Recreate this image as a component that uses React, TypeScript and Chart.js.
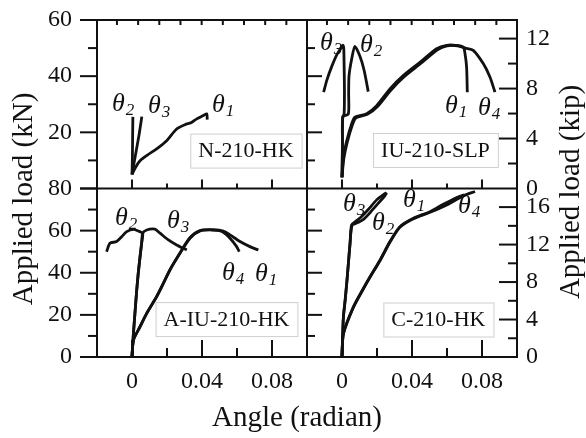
import { useEffect, useRef } from 'react';
import { Chart, registerables } from 'chart.js';

Chart.register(...registerables);

const FONT = "'Liberation Serif', 'Times New Roman', serif";
const INK = '#111111';
const KN_PER_KIP = 4.448;

// ---------- axis tick values ----------
const xLabelAngles = [0, 0.04, 0.08];
const xTickLabels = ['0', '0.04', '0.08'];
const xMinorAngles = [0.02, 0.06];
const topTickAngles = [-0.0086, 0.0035, 0.0156, 0.0277, 0.0398, 0.0519, 0.064, 0.0761, 0.0882];
const topPanelMaxKN = 60;
const bottomPanelMaxKN = 80;

// ---------- N-210-HK (top left) ----------
const n210Theta1Angle = [0, 0.002, 0.0046, 0.009, 0.0141, 0.0198, 0.0255, 0.0313, 0.034, 0.037, 0.0408, 0.0427, 0.043];
const n210Theta1Load = [5, 7.5, 9.9, 12, 14.1, 17, 21.2, 23, 23.5, 24.8, 26, 26.6, 24.5];
const n210Theta2Angle = [0, 0.0002, 0.0003, 0.0004, 0.0005];
const n210Theta2Load = [5, 10, 15, 21, 25.5];
const n210Theta3Angle = [0, 0.001, 0.002, 0.003, 0.004, 0.005, 0.0056];
const n210Theta3Load = [5, 8.5, 12, 15.5, 19, 23, 25.6];

// ---------- IU-210-SLP (top right) ----------
const slpTheta1Angle = [0, 0.0008, 0.0027, 0.0055, 0.0074, 0.0141, 0.0198, 0.0274, 0.035, 0.0447, 0.0541, 0.0598, 0.065, 0.0693, 0.0703, 0.0712, 0.0716];
const slpTheta1Load = [4, 11.1, 17, 23, 25.4, 26.6, 29.5, 35.5, 40.2, 45, 49.8, 51, 51, 50.4, 48, 43.2, 34.3];
const slpTheta2Angle = [0, 0.0003, 0.0005, 0.0036, 0.0038, 0.004, 0.0055, 0.0074, 0.0103, 0.0126, 0.015];
const slpTheta2Load = [4, 15, 25.5, 26.5, 34, 40, 46, 50.6, 47, 42.2, 34.5];
const slpTheta3Angle = [0, 0.0002, 0.0004, 0.0012, 0.0014, 0.0012, 0.001, 0.0006, 0, -0.003, -0.0059, -0.0086, -0.0105];
const slpTheta3Load = [4, 14, 25.5, 26.5, 35, 44, 50, 51, 50.5, 47.6, 43.4, 38.7, 34.3];
const slpTheta4Angle = [0, 0.001, 0.003, 0.006, 0.008, 0.0145, 0.0203, 0.0279, 0.0355, 0.045, 0.0545, 0.06, 0.066, 0.0705, 0.075, 0.0808, 0.0846, 0.0874];
const slpTheta4Load = [4, 10.5, 16.5, 22.8, 25.2, 26.4, 29.2, 35, 39.8, 44.5, 49.4, 50.8, 50.8, 50, 49.2, 44.4, 39.6, 34.3];

// ---------- A-IU-210-HK (bottom left) ----------
const aiuTheta1Angle = [0, 0.0008, 0.0046, 0.0084, 0.0141, 0.017, 0.0217, 0.0274, 0.0331, 0.0389, 0.0465, 0.0522, 0.056, 0.0617, 0.0674, 0.0722];
const aiuTheta1Load = [0, 8, 14.3, 20.6, 28.6, 33.3, 41.3, 49.2, 56.4, 59.9, 60.3, 59.8, 58, 54.8, 52.4, 50.8];
const aiuTheta2Angle = [0, 0.0008, 0.0018, 0.0027, 0.0036, 0.0046, 0.0055, 0.0061, 0.0036, 0.0008, -0.003, -0.0059, -0.0088, -0.0126, -0.0145];
const aiuTheta2Load = [0, 11, 22, 31.8, 40, 47.6, 54, 58.7, 59.8, 60.6, 59.5, 57.1, 54.8, 54, 50];
const aiuTheta3Angle = [0, 0.0008, 0.0018, 0.0027, 0.0036, 0.0046, 0.0055, 0.0061, 0.0084, 0.0131, 0.016, 0.0208, 0.0255, 0.0313];
const aiuTheta3Load = [0, 11, 22, 31.8, 40, 47.6, 54, 58.7, 60.3, 60.7, 58.8, 55.6, 53.2, 50.8];
const aiuTheta4Angle = [0, 0.0008, 0.0046, 0.0084, 0.0141, 0.017, 0.0217, 0.0274, 0.0331, 0.0389, 0.0465, 0.0515, 0.056, 0.0598, 0.0613];
const aiuTheta4Load = [0, 8, 14.5, 20.8, 28.8, 33.5, 41.5, 49.4, 56.6, 60, 60.4, 59.6, 56.4, 52.4, 50];

// ---------- C-210-HK (bottom right) ----------
const c210Theta1Angle = [0, 0.0008, 0.0065, 0.0122, 0.016, 0.0217, 0.0274, 0.0331, 0.0408, 0.0503, 0.0579, 0.065, 0.07];
const c210Theta1Load = [0, 11.1, 23.8, 32.6, 38.1, 46, 54.8, 61.9, 65.9, 69, 72.5, 75.5, 77];
const c210Theta2Angle = [0, 0.0003, 0.0008, 0.0018, 0.0027, 0.0036, 0.0046, 0.0058, 0.009, 0.0125, 0.016, 0.0205, 0.024, 0.0255];
const c210Theta2Load = [0, 8, 19, 27, 35, 44, 54, 62.5, 63.8, 65.5, 68.5, 72.8, 76, 78];
const c210Theta3Angle = [0, 0.0003, 0.0008, 0.0018, 0.0027, 0.0036, 0.0046, 0.0055, 0.008, 0.0112, 0.015, 0.0198, 0.0235, 0.0255];
const c210Theta3Load = [0, 8, 19, 27, 35, 44, 54, 62.7, 64.5, 66.7, 70, 74.6, 77, 78];
const c210Theta4Angle = [0, 0.0008, 0.0065, 0.0122, 0.016, 0.0217, 0.0274, 0.0331, 0.0408, 0.0503, 0.0598, 0.0693, 0.076];
const c210Theta4Load = [0, 10.8, 23.5, 32.3, 37.8, 45.7, 54.5, 61.6, 65.6, 68.7, 72.2, 76.5, 78.6];

type Curve = { sub: string; angle: number[]; load: number[]; labelAngle: number; labelLoad: number };
type Panel = { name: string; xId: string; yId: string; nameAngle: number; nameLoad: number; curves: Curve[] };

const panels: Panel[] = [
  {
    name: 'N-210-HK', xId: 'xL', yId: 'yTL', nameAngle: 0.0651, nameLoad: 13.5,
    curves: [
      { sub: '1', angle: n210Theta1Angle, load: n210Theta1Load, labelAngle: 0.0457, labelLoad: 27.2 },
      { sub: '2', angle: n210Theta2Angle, load: n210Theta2Load, labelAngle: -0.0114, labelLoad: 27.6 },
      { sub: '3', angle: n210Theta3Angle, load: n210Theta3Load, labelAngle: 0.0091, labelLoad: 26.9 },
    ],
  },
  {
    name: 'IU-210-SLP', xId: 'xR', yId: 'yTL', nameAngle: 0.0534, nameLoad: 13.7,
    curves: [
      { sub: '1', angle: slpTheta1Angle, load: slpTheta1Load, labelAngle: 0.0589, labelLoad: 26.9 },
      { sub: '2', angle: slpTheta2Angle, load: slpTheta2Load, labelAngle: 0.0103, labelLoad: 48.6 },
      { sub: '3', angle: slpTheta3Angle, load: slpTheta3Load, labelAngle: -0.0126, labelLoad: 49.3 },
      { sub: '4', angle: slpTheta4Angle, load: slpTheta4Load, labelAngle: 0.0777, labelLoad: 26.1 },
    ],
  },
  {
    name: 'A-IU-210-HK', xId: 'xL', yId: 'yBL', nameAngle: 0.054, nameLoad: 18,
    curves: [
      { sub: '1', angle: aiuTheta1Angle, load: aiuTheta1Load, labelAngle: 0.0703, labelLoad: 36.1 },
      { sub: '2', angle: aiuTheta2Angle, load: aiuTheta2Load, labelAngle: -0.0097, labelLoad: 62.7 },
      { sub: '3', angle: aiuTheta3Angle, load: aiuTheta3Load, labelAngle: 0.02, labelLoad: 61.3 },
      { sub: '4', angle: aiuTheta4Angle, load: aiuTheta4Load, labelAngle: 0.0514, labelLoad: 36.6 },
    ],
  },
  {
    name: 'C-210-HK', xId: 'xR', yId: 'yBL', nameAngle: 0.0551, nameLoad: 17.8,
    curves: [
      { sub: '1', angle: c210Theta1Angle, load: c210Theta1Load, labelAngle: 0.0349, labelLoad: 71.2 },
      { sub: '2', angle: c210Theta2Angle, load: c210Theta2Load, labelAngle: 0.0171, labelLoad: 60.3 },
      { sub: '3', angle: c210Theta3Angle, load: c210Theta3Load, labelAngle: 0.0006, labelLoad: 69.3 },
      { sub: '4', angle: c210Theta4Angle, load: c210Theta4Load, labelAngle: 0.0663, labelLoad: 68.4 },
    ],
  },
];

const tickFont = { family: FONT, size: 24 };

function xScale(): any {
  return {
    type: 'linear',
    position: 'bottom',
    stack: 'angle',
    stackWeight: 1,
    min: -0.02,
    max: 0.1,
    grid: { display: false, drawTicks: false },
    border: { display: false },
    ticks: {
      stepSize: 0.02,
      autoSkip: false,
      includeBounds: false,
      maxRotation: 0,
      padding: 10,
      color: INK,
      font: tickFont,
      callback: (v: number) => {
        const i = xLabelAngles.findIndex((a) => Math.abs(a - v) < 1e-9);
        return i >= 0 ? xTickLabels[i] : '';
      },
    },
    afterFit: (s: any) => {
      s.height = 81;
      s.paddingLeft = 0;
      s.paddingRight = 0;
    },
  };
}

function yScale(position: string, max: number, step: number, hideZero: boolean, width: number, padding: number): any {
  return {
    type: 'linear',
    position,
    stack: 'load',
    stackWeight: 1,
    min: 0,
    max,
    grid: { display: false, drawTicks: false },
    border: { display: false },
    ticks: {
      stepSize: step,
      autoSkip: false,
      includeBounds: false,
      padding,
      color: INK,
      font: tickFont,
      callback: (v: number) => {
        if (hideZero && v === 0) return '';
        const k = v / step;
        return Math.abs(k - Math.round(k)) < 1e-6 ? String(Math.round(v)) : '';
      },
    },
    afterFit: (s: any) => {
      s.width = width;
      s.paddingTop = 0;
      s.paddingBottom = 0;
    },
  };
}

const framePlugin = {
  id: 'frameAndNotes',
  afterDraw(chart: any) {
    const ctx: CanvasRenderingContext2D = chart.ctx;
    const s = chart.scales;
    const { left, right, top, bottom } = chart.chartArea;
    const midY = s.yBL.top;
    const midX = s.xR.left;
    const seg = (x1: number, y1: number, x2: number, y2: number) => {
      ctx.beginPath();
      ctx.moveTo(x1, y1);
      ctx.lineTo(x2, y2);
      ctx.stroke();
    };
    ctx.save();
    ctx.strokeStyle = INK;
    ctx.lineWidth = 2;
    ctx.lineCap = 'butt';
    ctx.strokeRect(left, top, right - left, bottom - top);
    seg(left, midY, right, midY);
    seg(midX, top, midX, bottom);

    // horizontal ticks
    for (const xs of [s.xL, s.xR]) {
      for (const v of xLabelAngles) {
        const px = xs.getPixelForValue(v);
        seg(px, bottom, px, bottom - 17);
        seg(px, midY, px, midY - 9);
      }
      for (const v of xMinorAngles) {
        const px = xs.getPixelForValue(v);
        seg(px, bottom, px, bottom - 9);
        seg(px, midY, px, midY - 5);
      }
      for (const v of topTickAngles) {
        const px = xs.getPixelForValue(v);
        seg(px, top, px, top + 5);
      }
    }

    // kN ticks: outward on the left edge, inward on the divider
    const kn: [any, number][] = [[s.yTL, topPanelMaxKN], [s.yBL, bottomPanelMaxKN]];
    for (const [ys, max] of kn) {
      for (let v = 0; v <= max; v += 10) {
        const py = ys.getPixelForValue(v);
        const major = v % 20 === 0;
        seg(left - (major ? 17 : 9), py, left, py);
        if (v > 0 && v < max) seg(midX, py, midX + (major ? 15 : 8), py);
      }
    }
    // kip ticks: inward on right edge
    for (const ys of [s.yTR, s.yBR]) {
      for (let v = 2; v < ys.max; v += 2) {
        const py = ys.getPixelForValue(v);
        const major = v % 4 === 0;
        seg(right - (major ? 18 : 9), py, right, py);
      }
    }

    // panel name boxes and theta labels
    ctx.textBaseline = 'alphabetic';
    for (const p of panels) {
      const xs = s[p.xId];
      const ys = s[p.yId];
      ctx.font = `22px ${FONT}`;
      const w = ctx.measureText(p.name).width + 16;
      const h = 34;
      const cx = xs.getPixelForValue(p.nameAngle);
      const cy = ys.getPixelForValue(p.nameLoad);
      ctx.fillStyle = '#ffffff';
      ctx.fillRect(cx - w / 2, cy - h / 2, w, h);
      ctx.strokeStyle = '#cfcfcf';
      ctx.lineWidth = 1;
      ctx.strokeRect(cx - w / 2 + 0.5, cy - h / 2 + 0.5, w, h);
      ctx.fillStyle = INK;
      ctx.textAlign = 'center';
      ctx.textBaseline = 'middle';
      ctx.fillText(p.name, cx, cy + 1);
      ctx.textAlign = 'left';
      ctx.textBaseline = 'alphabetic';
      for (const c of p.curves) {
        const lx = xs.getPixelForValue(c.labelAngle);
        const ly = ys.getPixelForValue(c.labelLoad);
        ctx.font = `italic 26px ${FONT}`;
        ctx.fillText('θ', lx, ly);
        const tw = ctx.measureText('θ').width;
        ctx.font = `italic 17px ${FONT}`;
        ctx.fillText(c.sub, lx + tw + 1, ly + 4);
      }
    }

    // axis titles
    ctx.fillStyle = INK;
    ctx.font = `29px ${FONT}`;
    ctx.textAlign = 'center';
    ctx.textBaseline = 'middle';
    ctx.fillText('Angle (radian)', (left + right) / 2 - 10, 418);
    ctx.save();
    ctx.translate(24, 199);
    ctx.rotate(-Math.PI / 2);
    ctx.fillText('Applied load (kN)', 0, 0);
    ctx.restore();
    ctx.save();
    ctx.translate(571, 192);
    ctx.rotate(-Math.PI / 2);
    ctx.fillText('Applied load (kip)', 0, 0);
    ctx.restore();
    ctx.restore();
  },
};

export default function App() {
  const ref = useRef<HTMLCanvasElement | null>(null);
  useEffect(() => {
    if (!ref.current) return;
    const datasets: any[] = [];
    for (const p of panels) {
      for (const c of p.curves) {
        datasets.push({
          label: `${p.name} θ${c.sub}`,
          data: c.angle.map((a, i) => ({ x: a, y: c.load[i] })),
          xAxisID: p.xId,
          yAxisID: p.yId,
          showLine: true,
          borderColor: INK,
          backgroundColor: INK,
          borderWidth: 2.8,
          pointRadius: 0,
          tension: 0.25,
          fill: false,
        });
      }
    }
    const chart = new Chart(ref.current, {
      type: 'scatter',
      data: { datasets },
      options: {
        animation: false,
        responsive: false,
        layout: { padding: { top: 20, left: 0, right: 0, bottom: 0 } },
        plugins: { legend: { display: false }, tooltip: { enabled: false }, title: { display: false } },
        scales: {
          xL: xScale(),
          xR: xScale(),
          yBL: yScale('left', bottomPanelMaxKN, 20, false, 97, 25),
          yTL: yScale('left', topPanelMaxKN, 20, true, 97, 25),
          yTR: yScale('right', topPanelMaxKN / KN_PER_KIP, 4, false, 69, 9),
          yBR: yScale('right', bottomPanelMaxKN / KN_PER_KIP, 4, false, 69, 9),
        },
      } as any,
      plugins: [framePlugin],
    });
    return () => chart.destroy();
  }, []);
  return (
    <div style={{ position: 'fixed', left: 0, top: 0, width: 586, height: 438, background: '#fff' }}>
      <canvas ref={ref} width={586} height={438} style={{ display: 'block' }} />
    </div>
  );
}
